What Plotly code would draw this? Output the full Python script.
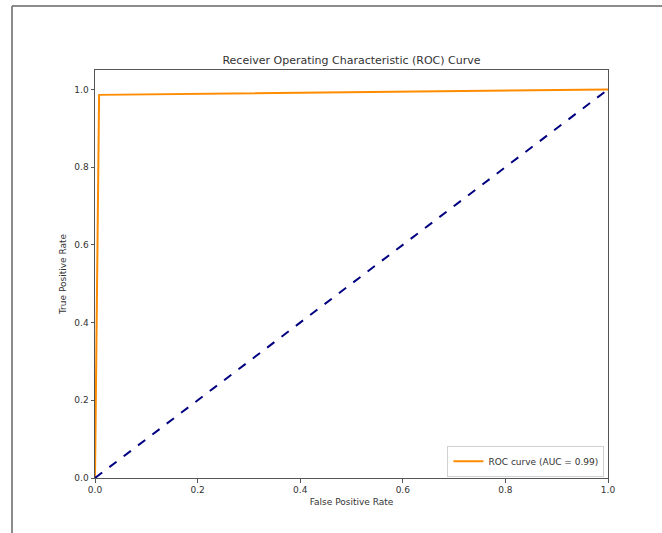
import plotly.graph_objects as go

fpr = [0.0, 0.008, 1.0]
tpr = [0.0, 0.986, 1.0]
diag_x = [0.0, 1.0]
diag_y = [0.0, 1.0]
auc_label = "ROC curve (AUC = 0.99)"
ticks = [0.0, 0.2, 0.4, 0.6, 0.8, 1.0]
tick_text = ["0.0", "0.2", "0.4", "0.6", "0.8", "1.0"]

fig = go.Figure()
fig.add_trace(go.Scatter(x=fpr, y=tpr, mode="lines", name=auc_label,
                         line=dict(color="#FF8C00", width=2)))
fig.add_trace(go.Scatter(x=diag_x, y=diag_y, mode="lines", showlegend=False,
                         line=dict(color="#000080", width=2, dash="dash")))

axis_common = dict(showgrid=False, zeroline=False, showline=True, mirror=True,
                   linecolor="#555555", linewidth=1, ticks="outside", ticklen=3.5,
                   tickcolor="#555555", tickfont=dict(size=9, color="#333333"),
                   tickvals=ticks, ticktext=tick_text)

fig.update_layout(
    width=662, height=533,
    margin=dict(l=95, r=54, t=70, b=55),
    paper_bgcolor="white", plot_bgcolor="white",
    font=dict(family="DejaVu Sans", color="#333333"),
    title=dict(text="Receiver Operating Characteristic (ROC) Curve",
               x=(95 + 608) / 2 / 662, xanchor="center", y=1 - 60 / 533, yanchor="middle",
               font=dict(size=11, color="#333333")),
    xaxis=dict(range=[0, 1], title=dict(text="False Positive Rate", font=dict(size=9), standoff=4), **axis_common),
    yaxis=dict(range=[0, 1.05], title=dict(text="True Positive Rate", font=dict(size=9), standoff=6), **axis_common),
    legend=dict(x=0.993, y=0.003, xanchor="right", yanchor="bottom",
                bordercolor="#d0d0d0", borderwidth=1, bgcolor="white",
                itemwidth=30, tracegroupgap=0,
                font=dict(size=9, color="#333333")),
    shapes=[
        dict(type="line", xref="paper", yref="paper",
             x0=(12 - 95) / 513, x1=(12 - 95) / 513, y0=(478 - 6) / 408, y1=(478 - 540) / 408,
             line=dict(color="#666666", width=1.5)),
        dict(type="line", xref="paper", yref="paper",
             x0=(12 - 95) / 513, x1=(670 - 95) / 513, y0=(478 - 6) / 408, y1=(478 - 6) / 408,
             line=dict(color="#666666", width=1.5)),
    ],
)
fig.write_html("out.html")
